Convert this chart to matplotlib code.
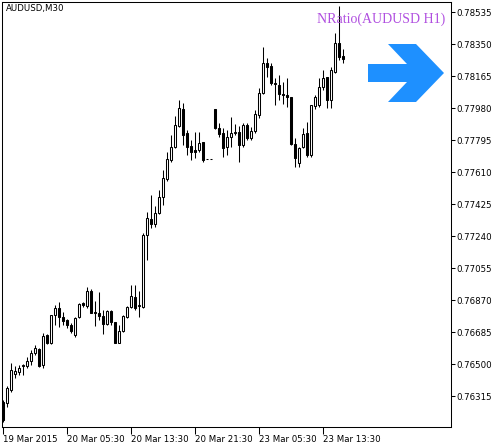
import numpy as np
import matplotlib.pyplot as plt
from matplotlib.patches import Polygon

# AUDUSD M30 bars (open, high, low, close)
opens = [0.76280, 0.76274, 0.76350, 0.76442, 0.76454, 0.76489, 0.76489, 0.76517, 0.76564, 0.76587,
         0.76494, 0.76668, 0.76622, 0.76784, 0.76824, 0.76772, 0.76755, 0.76726, 0.76668, 0.76772,
         0.76853, 0.76836, 0.76922, 0.76801, 0.76795, 0.76778, 0.76732, 0.76807, 0.76743, 0.76622,
         0.76691, 0.76772, 0.76830, 0.76888, 0.76836, 0.76830, 0.77246, 0.77339, 0.77310, 0.77374,
         0.77466, 0.77571, 0.77680, 0.77756, 0.77877, 0.77976, 0.77837, 0.77761, 0.77738, 0.77738,
         0.77785, 0.77686, 0.77686, 0.77976, 0.77866, 0.77837, 0.77756, 0.77814, 0.77837, 0.77842,
         0.77767, 0.77883, 0.77808, 0.77848, 0.77941, 0.78068, 0.78242, 0.78224, 0.78126, 0.78114,
         0.78062, 0.78057, 0.78045, 0.77773, 0.77663, 0.77756, 0.77837, 0.77709, 0.77993, 0.77999,
         0.78103, 0.78161, 0.78028, 0.78190, 0.78357, 0.78282]
highs = [0.76292, 0.76373, 0.76506, 0.76489, 0.76494, 0.76500, 0.76541, 0.76581, 0.76610, 0.76593,
         0.76679, 0.76674, 0.76784, 0.76841, 0.76859, 0.76801, 0.76760, 0.76737, 0.76772, 0.76853,
         0.76859, 0.76946, 0.76934, 0.76865, 0.76917, 0.76813, 0.76813, 0.76813, 0.76743, 0.76726,
         0.76784, 0.76836, 0.76957, 0.76957, 0.76922, 0.77258, 0.77380, 0.77478, 0.77414, 0.77507,
         0.77623, 0.77727, 0.77825, 0.77935, 0.78028, 0.78010, 0.77854, 0.77796, 0.77842, 0.77842,
         0.77785, 0.77686, 0.77686, 0.77976, 0.77895, 0.77866, 0.77854, 0.77929, 0.77889, 0.77877,
         0.77895, 0.77895, 0.77871, 0.77970, 0.78097, 0.78334, 0.78271, 0.78242, 0.78155, 0.78172,
         0.78132, 0.78155, 0.78045, 0.77808, 0.77756, 0.77866, 0.77900, 0.77999, 0.78057, 0.78155,
         0.78201, 0.78161, 0.78219, 0.78415, 0.78571, 0.78323]
lows = [0.76165, 0.76251, 0.76338, 0.76419, 0.76436, 0.76436, 0.76477, 0.76494, 0.76552, 0.76483,
        0.76477, 0.76616, 0.76616, 0.76726, 0.76714, 0.76726, 0.76708, 0.76679, 0.76656, 0.76766,
        0.76830, 0.76824, 0.76795, 0.76720, 0.76755, 0.76674, 0.76726, 0.76726, 0.76622, 0.76622,
        0.76685, 0.76766, 0.76824, 0.76813, 0.76772, 0.76824, 0.77102, 0.77287, 0.77293, 0.77368,
        0.77420, 0.77559, 0.77669, 0.77750, 0.77871, 0.77767, 0.77709, 0.77680, 0.77692, 0.77727,
        0.77669, 0.77686, 0.77686, 0.77860, 0.77814, 0.77698, 0.77709, 0.77756, 0.77825, 0.77669,
        0.77756, 0.77796, 0.77796, 0.77837, 0.77923, 0.78062, 0.78161, 0.78114, 0.77999, 0.78028,
        0.78004, 0.77987, 0.77767, 0.77640, 0.77640, 0.77750, 0.77698, 0.77698, 0.77976, 0.77987,
        0.78085, 0.77981, 0.77981, 0.78184, 0.78259, 0.78242]
closes = [0.76176, 0.76361, 0.76465, 0.76460, 0.76477, 0.76494, 0.76517, 0.76564, 0.76593, 0.76489,
          0.76662, 0.76622, 0.76784, 0.76824, 0.76772, 0.76749, 0.76726, 0.76691, 0.76766, 0.76847,
          0.76841, 0.76922, 0.76795, 0.76795, 0.76778, 0.76732, 0.76807, 0.76743, 0.76622, 0.76691,
          0.76778, 0.76830, 0.76893, 0.76824, 0.76841, 0.77246, 0.77345, 0.77310, 0.77374, 0.77466,
          0.77576, 0.77686, 0.77756, 0.77883, 0.77981, 0.77825, 0.77756, 0.77727, 0.77727, 0.77779,
          0.77680, 0.77686, 0.77686, 0.77866, 0.77831, 0.77750, 0.77814, 0.77837, 0.77842, 0.77767,
          0.77883, 0.77808, 0.77848, 0.77947, 0.78068, 0.78242, 0.78219, 0.78126, 0.78120, 0.78062,
          0.78057, 0.78045, 0.77773, 0.77692, 0.77750, 0.77831, 0.77709, 0.77999, 0.78045, 0.78103,
          0.78155, 0.78028, 0.78201, 0.78357, 0.78276, 0.78265]

xtick_pos = [0, 16, 32, 48, 64, 80]
xtick_labels = ['19 Mar 2015', '20 Mar 05:30', '20 Mar 13:30', '20 Mar 21:30',
                '23 Mar 05:30', '23 Mar 13:30']
ytick_vals = [0.76315, 0.76500, 0.76685, 0.76870, 0.77055, 0.77240, 0.77425,
              0.77610, 0.77795, 0.77980, 0.78165, 0.78350, 0.78535]

W, H = 503, 447
fig = plt.figure(figsize=(W / 100, H / 100), dpi=100)
ax = fig.add_axes([2 / W, 20 / H, 449 / W, 425 / H])

o = np.array(opens)
c = np.array(closes)
x = np.arange(len(o))
up = c >= o

ax.vlines(x, lows, highs, color='black', linewidth=0.75, zorder=1)
ax.bar(x[up], (c - o)[up], bottom=o[up], width=0.5, facecolor='white',
       edgecolor='black', linewidth=0.75, zorder=2)
ax.bar(x[~up], (o - c)[~up], bottom=c[~up], width=0.5, facecolor='black',
       edgecolor='black', linewidth=0.75, zorder=2)

ax.set_xlim(-0.175, 112.075)
ax.set_ylim(0.76136, 0.78595)

ax.set_xticks(xtick_pos)
ax.set_xticklabels(xtick_labels, ha='left')
ax.set_yticks(ytick_vals)
ax.set_yticklabels(['%.5f' % v for v in ytick_vals])
ax.yaxis.tick_right()
ax.tick_params(axis='y', direction='out', length=3, width=0.75, pad=1, labelsize=6.2)
ax.tick_params(axis='x', direction='out', length=5, width=0.75, pad=1, labelsize=6.2)
for s in ax.spines.values():
    s.set_linewidth(0.75)

fig.text(6 / W, 1 - 4 / H, 'AUDUSD,M30', fontsize=6.2, va='top', ha='left')
fig.text(445 / W, 1 - 13 / H, 'NRatio(AUDUSD H1)', fontsize=10, va='top', ha='right',
         family='Liberation Serif', color='#b04fe0')

# big blue arrow marker
arrow_px = [(368, 64), (407, 64), (388, 44), (416, 44), (444, 73),
            (416, 102), (388, 102), (407, 82), (368, 82)]
arrow = Polygon([(px / W, 1 - py / H) for px, py in arrow_px], closed=True,
                transform=fig.transFigure, facecolor='#1e90ff', edgecolor='none')
fig.patches.append(arrow)

fig.savefig('out.png', dpi=100)
